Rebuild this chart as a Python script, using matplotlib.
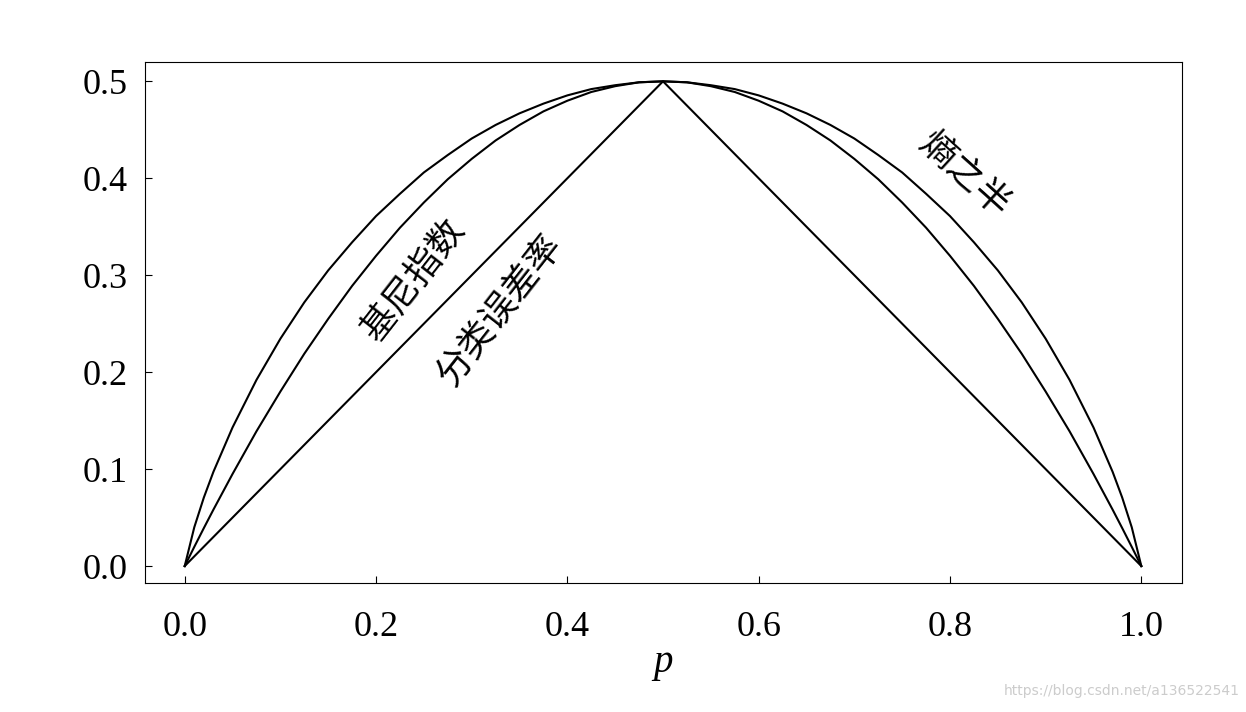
import matplotlib.pyplot as plt

# values for the left half (p = 0 .. 0.5); the chart is symmetric about p = 0.5
p_left = [0.0, 0.01, 0.02, 0.03, 0.05, 0.075, 0.1, 0.125, 0.15, 0.175, 0.2, 0.225, 0.25,
          0.275, 0.3, 0.325, 0.35, 0.375, 0.4, 0.425, 0.45, 0.475, 0.5]
half_entropy_left = [0.0, 0.040, 0.0707, 0.0972, 0.143, 0.192, 0.2345, 0.272, 0.305, 0.334,
                     0.361, 0.384, 0.406, 0.424, 0.441, 0.455, 0.467, 0.477, 0.4855, 0.492,
                     0.496, 0.499, 0.5]
gini_left = [0.0, 0.0198, 0.0392, 0.0582, 0.095, 0.139, 0.18, 0.219, 0.255, 0.289, 0.32,
             0.349, 0.375, 0.399, 0.42, 0.439, 0.455, 0.469, 0.48, 0.489, 0.495, 0.499, 0.5]
error_left = [0.0, 0.01, 0.02, 0.03, 0.05, 0.075, 0.1, 0.125, 0.15, 0.175, 0.2, 0.225, 0.25,
              0.275, 0.3, 0.325, 0.35, 0.375, 0.4, 0.425, 0.45, 0.475, 0.5]
xticks = [0.0, 0.2, 0.4, 0.6, 0.8, 1.0]
yticks = [0.0, 0.1, 0.2, 0.3, 0.4, 0.5]

p = p_left + [1 - v for v in reversed(p_left[:-1])]

def mirror(vals):
    return vals + list(reversed(vals[:-1]))

plt.rcParams['font.family'] = ['Liberation Serif', 'Noto Sans CJK SC']

fig = plt.figure(figsize=(12.46, 7.12), dpi=100)
ax = fig.add_axes([0.116, 0.181, 0.833, 0.732])

for ys in (half_entropy_left, gini_left, error_left):
    ax.plot(p, mirror(ys), color='black', lw=1.5)

ax.set_xlim(-0.042, 1.043)
ax.set_ylim(-0.0176, 0.52)
ax.set_xticks(xticks)
ax.set_yticks(yticks)
ax.set_xticklabels([f'{v:.1f}' for v in xticks])
ax.set_yticklabels([f'{v:.1f}' for v in yticks])
ax.tick_params(direction='in', labelsize=26, length=5)
ax.tick_params(axis='x', pad=20)
ax.tick_params(axis='y', pad=12)
ax.set_xlabel('p', fontsize=28, style='italic', labelpad=0)

cjk = ['Noto Sans CJK SC']
ax.text(0.24, 0.295, '基尼指数', rotation=52, fontsize=26, family=cjk, ha='center', va='center')
ax.text(0.33, 0.264, '分类误差率', rotation=52, fontsize=26, family=cjk, ha='center', va='center')
ax.text(0.815, 0.404, '熵之半', rotation=-42, fontsize=26, family=cjk, ha='center', va='center')

fig.text(0.995, 0.02, 'https://blog.csdn.net/a136522541', fontsize=10, color='#cccccc',
         ha='right', va='bottom', family='DejaVu Sans')

fig.savefig('out.png', dpi=100)
